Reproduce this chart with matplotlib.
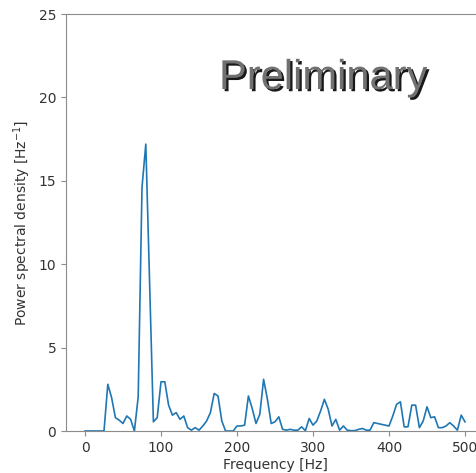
import matplotlib
matplotlib.use("Agg")
import matplotlib.pyplot as plt
import matplotlib.patheffects as pe
import numpy as np

# Frequency bins [Hz] and power spectral density values [Hz^-1]
freq = np.arange(0, 505, 5)
psd = [
    0.0, 0.0, 0.0, 0.0, 0.0, 0.0, 2.8, 2.0, 0.8, 0.65,      # 0-45
    0.45, 0.9, 0.7, 0.0, 2.05, 14.6, 17.2, 8.9, 0.55, 0.8,  # 50-95
    2.95, 2.95, 1.55, 0.95, 1.1, 0.7, 0.9, 0.2, 0.05, 0.2,  # 100-145
    0.05, 0.3, 0.6, 1.1, 2.25, 2.1, 0.6, 0.0, 0.0, 0.0,     # 150-195
    0.3, 0.3, 0.35, 2.1, 1.35, 0.45, 1.0, 3.1, 1.9, 0.45,   # 200-245
    0.55, 0.85, 0.1, 0.05, 0.1, 0.05, 0.05, 0.25, 0.02, 0.75,  # 250-295
    0.35, 0.6, 1.2, 1.9, 1.3, 0.3, 0.7, 0.05, 0.3, 0.05,    # 300-345
    0.02, 0.02, 0.1, 0.15, 0.05, 0.05, 0.5, 0.45, 0.4, 0.35,  # 350-395
    0.3, 0.9, 1.6, 1.75, 0.25, 0.25, 1.55, 1.55, 0.2, 0.6,  # 400-445
    1.45, 0.8, 0.85, 0.2, 0.2, 0.3, 0.5, 0.3, 0.05, 0.95,   # 450-495
    0.55,                                                   # 500
]

xticks = [0, 100, 200, 300, 400, 500]
yticks = [0, 5, 10, 15, 20, 25]

fig = plt.figure(figsize=(4.76, 4.73), dpi=100)
ax = fig.add_axes([66 / 476, 42 / 473, 418 / 476, 417 / 473])
ax.plot(freq, psd, color="#1f77b4", linewidth=1.2)
ax.set_ylim(0, 25)
ax.set_xlim(-25, 525)
ax.set_xticks(xticks)
ax.set_yticks(yticks)

grey = "#8c8c8c"
txt = "#333333"
for s in ax.spines.values():
    s.set_color(grey)
ax.tick_params(colors=grey, labelcolor=txt, labelsize=10)
ax.set_xlabel("Frequency [Hz]", fontsize=10, color=txt, labelpad=2)
ax.set_ylabel("Power spectral density [Hz$^{-1}$]", fontsize=10, color=txt)

t = fig.text(323 / 476, (473 - 89) / 473, "Preliminary", ha="center", va="baseline",
             fontsize=30, family="Liberation Sans", color="#717171")
t.set_path_effects([
    pe.SimplePatchShadow(offset=(1.6, -1.6), shadow_rgbFace="black", alpha=0.9),
    pe.Normal(),
])

fig.savefig("out.png", dpi=100)
